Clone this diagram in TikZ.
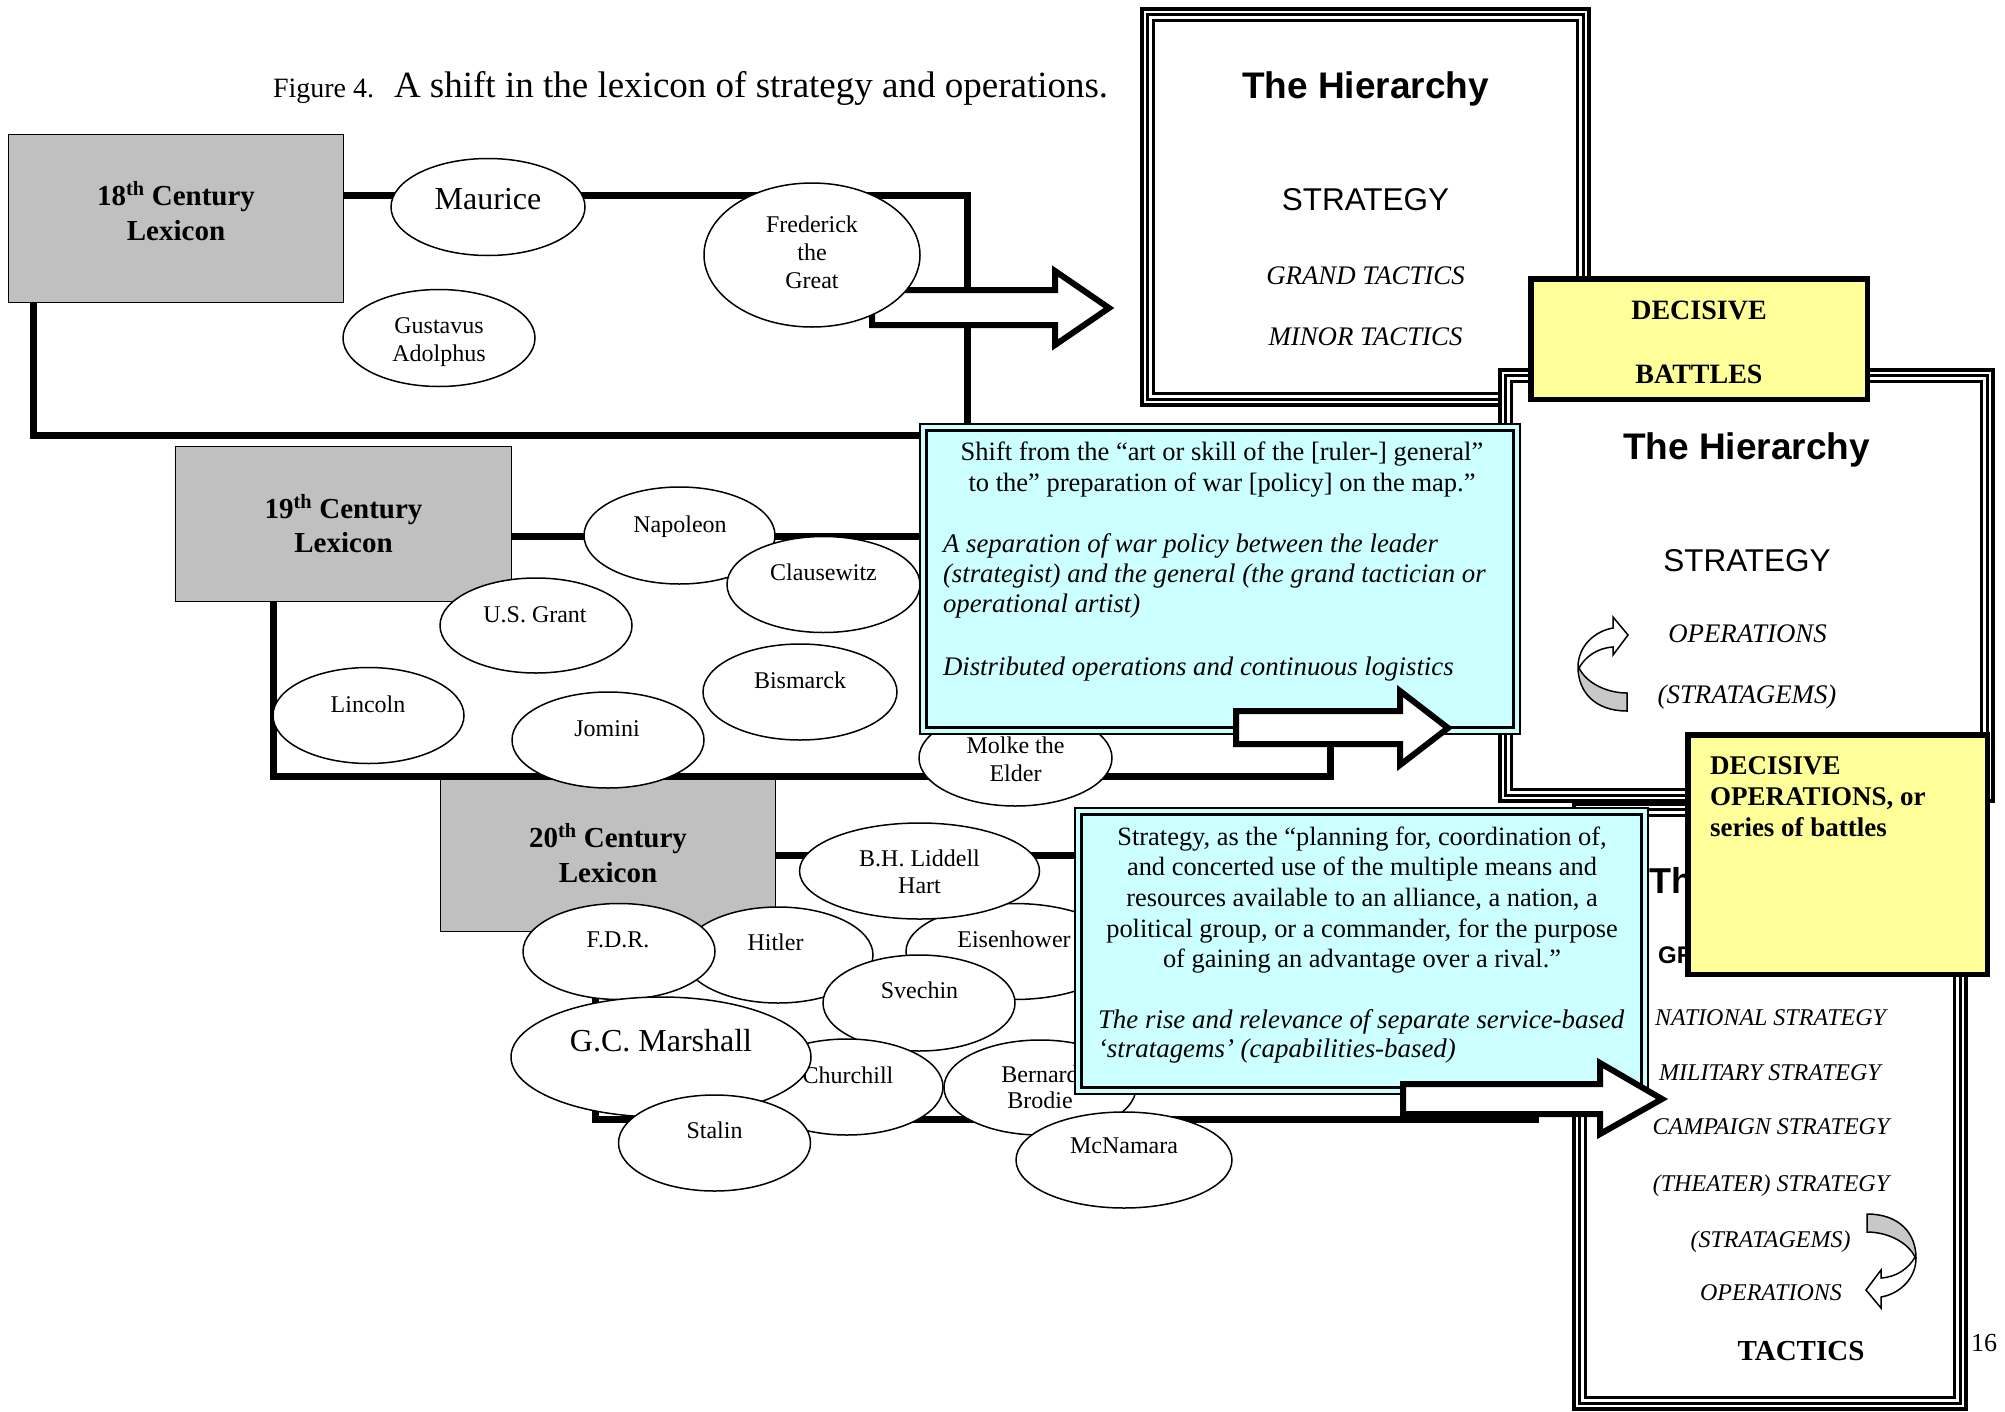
\documentclass[tikz,border=0pt]{standalone}
\usepackage{fontspec}
\setmainfont{Liberation Serif}
\setsansfont{Liberation Sans}
\usetikzlibrary{shapes.geometric}
\definecolor{lexgray}{HTML}{C0C0C0}
\definecolor{notecyan}{HTML}{CCFFFF}
\definecolor{noteyellow}{HTML}{FFFF99}
\definecolor{backface}{HTML}{C8C8C8}
\newcommand\fsz[1]{\fontsize{#1}{#1}\selectfont}
% three nested outlines of a hierarchy panel
\newcommand\tripleframe[1]{%
  \draw[line width=3.5pt] ([shift={(5.5,5.5)}]#1.north west) rectangle ([shift={(-5.5,-5.5)}]#1.south east);
  \draw[line width=2.5pt] ([shift={(11.5,11.5)}]#1.north west) rectangle ([shift={(-11.5,-11.5)}]#1.south east);}
% thin-thick double outline of a note
\newcommand\noteframe[1]{%
  \draw[line width=3.2pt] ([shift={(6.3,6.3)}]#1.north west) rectangle ([shift={(-6.3,-6.3)}]#1.south east);}
\tikzset{
  every node/.style={inner sep=0pt, outer sep=0pt},
  era/.style={line width=7pt},
  lexbox/.style={draw, line width=1.5pt, fill=lexgray},
  lextext/.style={anchor=base, font=\fsz{29}\bfseries},
  person/.style={ellipse, draw, line width=1.5pt, fill=white},
  who/.style={anchor=base, font=\fsz{24}},
  bigwho/.style={anchor=base, font=\fsz{32}},
  blockarrow/.style={draw, line width=6pt, fill=white, line join=miter, miter limit=10},
  hier/.style={draw, line width=4pt, fill=white},
  note/.style={draw, line width=2pt, fill=notecyan},
  decisive/.style={draw, line width=5.5pt, fill=noteyellow},
  notec/.style={anchor=base, font=\fsz{26.5}},
  notei/.style={anchor=base west, font=\fsz{26.8}\itshape},
  hhead/.style={anchor=base, font=\sffamily\bfseries\fsz{37}},
  hstrat/.style={anchor=base, font=\sffamily\fsz{31.5}},
  hlevel/.style={anchor=base, font=\itshape\fsz{26.8}},
  hlevelsm/.style={anchor=base, font=\itshape\fsz{24}},
  dtext/.style={anchor=base, font=\bfseries\fsz{28}},
  dtextl/.style={anchor=base west, font=\bfseries\fsz{27}},
  curvy/.pic={
    \fill[backface] (-25,3) .. controls (-25,28) and (-8,47) .. (24,47) -- (24,29)
      .. controls (5,29) and (-16,20) .. (-24,4) -- cycle;
    \draw[line width=1.5pt, line join=miter] (25,-29) -- (10,-47) -- (10,-36)
      .. controls (-8,-33) and (-25,-18) .. (-25,3)
      .. controls (-25,28) and (-8,47) .. (24,47) -- (24,29)
      .. controls (5,29) and (-16,20) .. (-24,4)
      .. controls (-18,-7) and (-6,-16) .. (10,-17) -- (10,-9) -- cycle;
  }
}
\begin{document}
\begin{tikzpicture}[x=1pt, y=-1pt]
\useasboundingbox (0,0) rectangle (2005,1411);
\fill[white] (0,0) rectangle (2005,1411);

% caption
\node[anchor=base west, font=\fsz{28}] (fig) at (273,97) {Figure 4.};
\node[anchor=base west, font=\fsz{37}] (title) at (394,97) {A shift in the lexicon of strategy and operations.};

% ---------- 20th century ----------
\draw[era] (595,855.5) rectangle (1535,1119);
\node[lexbox, minimum width=335, minimum height=155] (lex20) at (608,854) {};
\node[lextext] (lex20a) at (608,847) {20\textsuperscript{th} Century};
\node[lextext] (lex20b) at (608,882) {Lexicon};

\node[person, minimum width=216, minimum height=96] (eisenhower) at (1014,951.5) {};
\node[who] (eisenhowert) at (1014,947) {Eisenhower};
\node[person, minimum width=240, minimum height=96] (liddell) at (919.5,871) {};
\node[who] (liddellt) at (919.5,866) {B.H. Liddell};
\node[who] (liddellu) at (919.5,893) {Hart};
\node[person, minimum width=190, minimum height=96] (hitler) at (778,955) {};
\node[who] (hitlert) at (775.5,950) {Hitler};
\node[person, minimum width=192, minimum height=96] (fdr) at (619,951.5) {};
\node[who] (fdrt) at (618,947) {F.D.R.};
\node[person, minimum width=192, minimum height=96] (svechin) at (919,1003) {};
\node[who] (svechint) at (919.5,998) {Svechin};
\node[person, minimum width=192, minimum height=96] (churchill) at (847,1087) {};
\node[who] (churchillt) at (848,1083) {Churchill};
\node[person, minimum width=192, minimum height=95] (brodie) at (1040,1087.5) {};
\node[who] (brodiet) at (1040,1082) {Bernard};
\node[who] (brodieu) at (1040,1108) {Brodie};
\node[person, minimum width=300, minimum height=120] (marshall) at (661,1057) {};
\node[bigwho] (marshallt) at (661,1051) {G.C. Marshall};
\node[person, minimum width=216, minimum height=96] (mcnamara) at (1124,1160) {};
\node[who] (mcnamarat) at (1124,1153) {McNamara};
\node[person, minimum width=192, minimum height=96] (stalin) at (714.5,1143) {};
\node[who] (stalint) at (714.5,1138) {Stalin};

% ---------- 19th century ----------
\draw[era] (273,536.5) rectangle (1330,776);
\node[lexbox, minimum width=336, minimum height=155] (lex19) at (343.5,524) {};
\node[lextext] (lex19a) at (343.5,518) {19\textsuperscript{th} Century};
\node[lextext] (lex19b) at (343.5,552) {Lexicon};

\node[person, minimum width=191, minimum height=97] (napoleon) at (679.5,535.5) {};
\node[who] (napoleont) at (680,532) {Napoleon};
\node[person, minimum width=193, minimum height=96] (clausewitz) at (823.5,584.5) {};
\node[who] (clausewitzt) at (823.5,580) {Clausewitz};
\node[person, minimum width=192, minimum height=95] (grant) at (536,625.5) {};
\node[who] (grantt) at (535,622) {U.S. Grant};
\node[person, minimum width=194, minimum height=96] (bismarck) at (800,692) {};
\node[who] (bismarckt) at (800,688) {Bismarck};
\node[person, minimum width=191, minimum height=96] (lincoln) at (368.5,715.5) {};
\node[who] (lincolnt) at (368,712) {Lincoln};
\node[person, minimum width=192, minimum height=96] (jomini) at (608,740) {};
\node[who] (jominit) at (607,736) {Jomini};
\node[person, minimum width=193, minimum height=96] (molke) at (1015.5,758) {};
\node[who] (molket) at (1015.5,753) {Molke the};
\node[who] (molkeu) at (1015.5,781) {Elder};

% ---------- 18th century ----------
\draw[era] (33,195) rectangle (967,435);
\draw[blockarrow] (872,290) -- (1055,290) -- (1055,271) -- (1109,308) -- (1055,345) -- (1055,325) -- (872,325) -- cycle;
\node[lexbox, minimum width=335, minimum height=168] (lex18) at (176,218.5) {};
\node[lextext] (lex18a) at (176,205) {18\textsuperscript{th} Century};
\node[lextext] (lex18b) at (176,240.5) {Lexicon};

\node[person, minimum width=194, minimum height=97] (maurice) at (488,207) {};
\node[bigwho] (mauricet) at (488,209.3) {Maurice};
\node[person, minimum width=192, minimum height=97] (gustavus) at (439,338) {};
\node[who] (gustavust) at (439,333.3) {Gustavus};
\node[who] (gustavusu) at (439,361.7) {Adolphus};
\node[person, minimum width=216, minimum height=144] (frederick) at (812,255) {};
\node[who] (frederickt) at (812,232.3) {Frederick};
\node[who] (fredericku) at (812,260.7) {the};
\node[who] (frederickv) at (812,288.7) {Great};

% ---------- first hierarchy ----------
\node[hier, minimum width=447, minimum height=396] (hier1) at (1365.5,207) {};
\tripleframe{hier1}
\node[hhead] (hier1a) at (1365.5,98.3) {The Hierarchy};
\node[hstrat] (hier1b) at (1365.5,210.7) {STRATEGY};
\node[hlevel] (hier1c) at (1365.5,284) {GRAND TACTICS};
\node[hlevel] (hier1d) at (1365.5,345) {MINOR TACTICS};

% ---------- second hierarchy ----------
\node[hier, minimum width=493, minimum height=431] (hier2) at (1746.5,585.5) {};
\tripleframe{hier2}
\node[hhead] (hier2a) at (1746.5,459) {The Hierarchy};
\node[hstrat] (hier2b) at (1747,571) {STRATEGY};
\node[hlevel] (hier2c) at (1747.5,642) {OPERATIONS};
\node[hlevel] (hier2d) at (1747,703) {(STRATAGEMS)};
\pic at (1603,664) {curvy};

\node[decisive, minimum width=336.5, minimum height=120.5] (dec1) at (1699,339) {};
\node[dtext] (dec1a) at (1699,319) {DECISIVE};
\node[dtext] (dec1b) at (1699,383) {BATTLES};

% ---------- first note ----------
\node[note, minimum width=600, minimum height=310] (note1) at (1220,579) {};
\noteframe{note1}
\node[notec] (note1a) at (1222,460) {Shift from the “art or skill of the [ruler-] general”};
\node[notec] (note1b) at (1222,491) {to the” preparation of war [policy] on the map.”};
\node[notei] (note1c) at (943,552) {A separation of war policy between the leader};
\node[notei] (note1d) at (943,582) {(strategist) and the general (the grand tactician or};
\node[notei] (note1e) at (943,612) {operational artist)};
\node[notei] (note1f) at (943,675) {Distributed operations and continuous logistics};
\draw[blockarrow] (1236,711) -- (1400,711) -- (1400,691) -- (1448,728) -- (1400,765) -- (1400,744) -- (1236,744) -- cycle;

% ---------- third hierarchy ----------
\node[hier, minimum width=392, minimum height=605] (hier3) at (1770,1106.5) {};
\tripleframe{hier3}
\node[hhead, font=\sffamily\bfseries\fsz{36}] (hier3a) at (1770,893) {The Hierarchy};
\node[anchor=base, font=\sffamily\bfseries\fsz{24}] (hier3b) at (1770,963) {GRAND STRATEGY};
\node[hlevelsm] (hier3c) at (1770.5,1025.5) {NATIONAL STRATEGY};
\node[hlevelsm] (hier3d) at (1770,1080) {MILITARY STRATEGY};
\node[hlevelsm] (hier3e) at (1771,1134) {CAMPAIGN STRATEGY};
\node[hlevelsm] (hier3f) at (1771,1191) {(THEATER) STRATEGY};
\node[hlevelsm] (hier3g) at (1770.5,1247) {(STRATAGEMS)};
\node[hlevelsm] (hier3h) at (1771,1300) {OPERATIONS};
\node[anchor=base, font=\bfseries\fsz{29}] (hier3i) at (1801,1360) {TACTICS};
\pic[rotate=180] at (1891,1261) {curvy};

\node[decisive, minimum width=299.5, minimum height=239.5] (dec2) at (1837.5,854.5) {};
\node[dtextl] (dec2a) at (1710,774) {DECISIVE};
\node[dtextl] (dec2b) at (1710,805.5) {OPERATIONS, or};
\node[dtextl] (dec2c) at (1710,836.5) {series of battles};

% ---------- second note ----------
\node[note, minimum width=573, minimum height=286] (note2) at (1361.5,951) {};
\noteframe{note2}
\node[notec, font=\fsz{26.4}] (note2a) at (1362,845) {Strategy, as the “planning for, coordination of,};
\node[notec, font=\fsz{26.4}] (note2b) at (1362,875.5) {and concerted use of the multiple means and};
\node[notec, font=\fsz{26.4}] (note2c) at (1362,906) {resources available to an alliance, a nation, a};
\node[notec, font=\fsz{26.4}] (note2d) at (1362,937) {political group, or a commander, for the purpose};
\node[notec, font=\fsz{26.4}] (note2e) at (1362,967) {of gaining an advantage over a rival.”};
\node[notei, font=\fsz{26.9}\itshape] (note2f) at (1098,1028) {The rise and relevance of separate service-based};
\node[notei, font=\fsz{26.9}\itshape] (note2g) at (1098,1057) {‘stratagems’ (capabilities-based)};
\draw[blockarrow] (1403,1084) -- (1600,1084) -- (1600,1063) -- (1662,1099) -- (1600,1134) -- (1600,1114) -- (1403,1114) -- cycle;

% page number
\node[anchor=base west, font=\fsz{26}] (pageno) at (1971,1351) {16};
\end{tikzpicture}
\end{document}
